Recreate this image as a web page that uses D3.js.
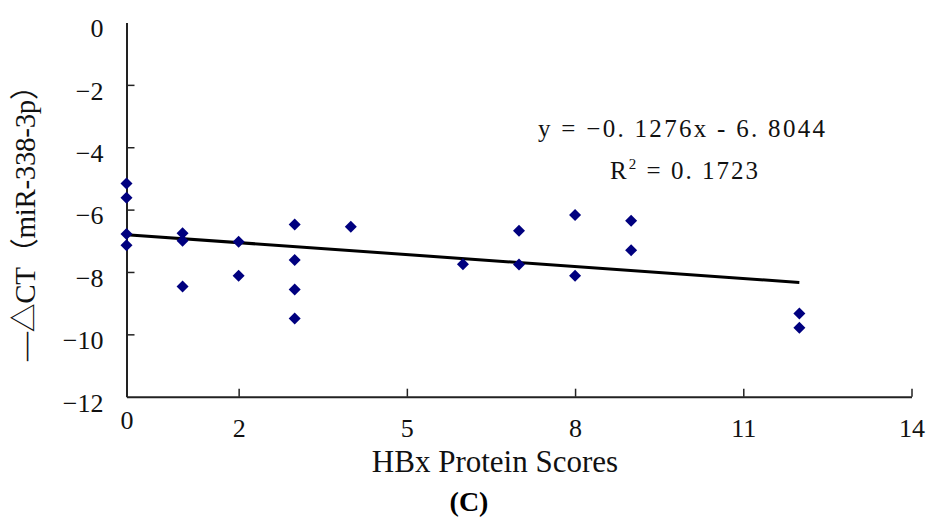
<!DOCTYPE html>
<html>
<head lang="en">
  <meta charset="UTF-8">
<title>HBx vs miR-338-3p</title>
<style>
body { margin: 0; background: #fff; }
</style>
<script src="https://cdn.jsdelivr.net/npm/d3@7"></script>
</head>
<body>
<div id="vis"></div>

<script>

// HBx protein score of each sample and its -dCT value
var scores = [0, 0, 0, 0, 1, 1, 1, 2, 2, 3, 3, 3, 3, 4, 6, 7, 7, 8, 8, 9, 9, 12, 12];
var dct = [-5.16, -5.62, -6.78, -7.14, -6.76, -7.0, -8.47, -7.03, -8.12,
           -6.48, -7.62, -8.56, -9.49, -6.55, -7.75, -6.68, -7.76, -6.17, -8.12,
           -6.36, -7.30, -9.33, -9.79];

// linear trendline, as printed on the chart
var slope = -0.1276;
var intercept = -6.8044;
var trendRange = [0, 12];

var xTicks = [0, 2, 5, 8, 11, 14];
var yTicks = [0, -2, -4, -6, -8, -10, -12];

var width = 928;
var height = 520;
var serif = "'Liberation Serif', 'Times New Roman', serif";

var svg = d3.select("#vis").append("svg")
  .attr("width", width)
  .attr("height", height)
  .style("background", "#fff");

var x = d3.scaleLinear().domain([0, 14]).range([126.5, 911.5]);
var y = d3.scaleLinear().domain([-12, 0]).range([396.7, 22.5]);

// y axis, ticks point into the plot
var yAxis = svg.append("g")
  .attr("transform", "translate(" + x(0) + ",0)")
  .call(d3.axisLeft(y).tickValues(yTicks).tickSizeInner(-8).tickSizeOuter(0).tickPadding(23)
    .tickFormat(function(d) { return d == 0 ? "0" : "\u2212" + Math.abs(d); }));
yAxis.select(".domain").attr("stroke", "#222").attr("stroke-width", 2);
yAxis.selectAll(".tick line").attr("stroke", "#222").attr("stroke-width", 1.5)
  .attr("display", function(d) { return (d == 0 || d == -12) ? "none" : null; });
yAxis.selectAll(".tick text")
  .style("font-family", serif).style("font-size", "26px").attr("fill", "#111")
  .attr("transform", "translate(0,6)");

// x axis
var xAxis = svg.append("g")
  .attr("transform", "translate(0," + y(-12) + ")")
  .call(d3.axisBottom(x).tickValues(xTicks).tickSizeInner(-8).tickSizeOuter(0).tickPadding(22));
xAxis.select(".domain").attr("stroke", "#222").attr("stroke-width", 2);
xAxis.selectAll(".tick line").attr("stroke", "#222").attr("stroke-width", 1.5)
  .attr("display", function(d) { return d == 0 ? "none" : null; });
xAxis.selectAll(".tick text")
  .style("font-family", serif).style("font-size", "26px").attr("fill", "#111")
  .attr("transform", function(d) { return d == 0 ? "translate(0,-8)" : null; });

// trendline
svg.append("line")
  .attr("x1", x(trendRange[0]))
  .attr("x2", x(trendRange[1]))
  .attr("y1", y(slope * trendRange[0] + intercept))
  .attr("y2", y(slope * trendRange[1] + intercept))
  .attr("stroke", "#000")
  .attr("stroke-width", 3);

// diamonds
var diamond = d3.symbol().type(d3.symbolSquare).size(72);
svg.selectAll(".pt")
  .data(scores)
  .enter()
  .append("path").attr("class", "pt")
  .attr("d", diamond)
  .attr("fill", "#00007f")
  .attr("transform", function(d, i) {
    return "translate(" + x(d) + "," + y(dct[i]) + ") rotate(45)";
  });

// equation
svg.append("text")
  .attr("x", 538).attr("y", 137)
  .attr("textLength", 287).attr("lengthAdjust", "spacing")
  .style("font-family", serif).style("font-size", "25px").attr("fill", "#111")
  .attr("xml:space", "preserve")
  .text("y = \u22120. 1276x - 6. 8044");

var r2 = svg.append("text")
  .attr("x", 610).attr("y", 179)
  .attr("textLength", 148).attr("lengthAdjust", "spacing")
  .style("font-family", serif).style("font-size", "25px").attr("fill", "#111")
  .attr("xml:space", "preserve");
r2.append("tspan").text("R");
r2.append("tspan").attr("dy", -10).style("font-size", "15px").text("2");
r2.append("tspan").attr("dy", 10).text(" = 0. 1723");

// axis titles
svg.append("text")
  .attr("transform", "translate(35,216) rotate(-90)")
  .attr("text-anchor", "middle")
  .attr("textLength", 290).attr("lengthAdjust", "spacing")
  .style("font-family", "'Liberation Serif', 'Noto Sans CJK SC', serif")
  .style("font-size", "29px").attr("fill", "#111")
  .text("\u2014\u25b3CT\uff08miR-338-3p\uff09");

svg.append("text")
  .attr("x", 495).attr("y", 472)
  .attr("text-anchor", "middle")
  .style("font-family", serif)
  .style("font-size", "31px").attr("fill", "#111")
  .text("HBx Protein Scores");

svg.append("text")
  .attr("x", 469).attr("y", 511)
  .attr("text-anchor", "middle")
  .style("font-family", serif)
  .style("font-weight", "bold")
  .style("font-size", "28px").attr("fill", "#000")
  .text("(C)");

</script>
</body>
</html>
